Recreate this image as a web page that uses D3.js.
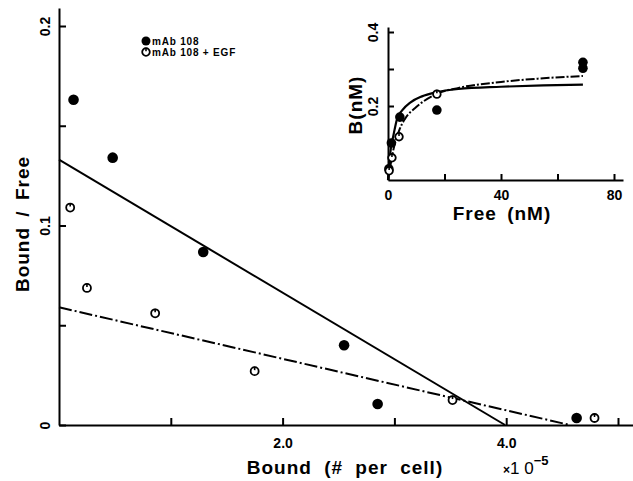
<!DOCTYPE html>
<meta charset="utf-8">
<style>
body { margin: 0; background: #fff; }
text { font-family: "Liberation Sans", Arial, sans-serif; font-weight: bold; fill: #000; }
.axis path, .axis line { stroke: #000; stroke-width: 2; }
</style>
<body>
<script src="https://d3js.org/d3.v7.min.js"></script>
<script>
// Scatchard plot: bound (x1e-5 per cell) vs bound/free
var mabBound = [0.13, 0.48, 1.29, 2.55, 2.85, 4.63],
    mabRatio = [0.163, 0.134, 0.0867, 0.040, 0.0105, 0.0035];
var egfBound = [0.10, 0.25, 0.86, 1.75, 3.52, 4.79],
    egfRatio = [0.109, 0.0687, 0.056, 0.027, 0.0125, 0.0035];
// fitted lines, end points
var mabFitX = [0, 3.99], mabFitY = [0.133, 0];
var egfFitX = [0, 4.57], egfFitY = [0.059, 0];
var xTicks = [1, 2, 3, 4, 5], xTickLabels = {2: "2.0", 4: "4.0"};
var yTicks = [0, 0.05, 0.1, 0.15, 0.2], yTickLabels = {0: "0", 0.1: "0.1", 0.2: "0.2"};

// inset: free (nM) vs B (nM)
var inMabFree = [0.3, 1.2, 4.2, 17.3, 69, 69],
    inMabB = [0.03, 0.10, 0.17, 0.189, 0.302, 0.318];
var inEgfFree = [0.4, 1.4, 3.9, 17.3],
    inEgfB = [0.025, 0.06, 0.117, 0.232];
var inMabCurveF = [0, 0.5, 1.0, 1.8, 3.2, 5, 8, 12, 17, 25, 40, 55, 69],
    inMabCurveB = [0, 0.05, 0.085, 0.116, 0.165, 0.188, 0.21, 0.226, 0.237, 0.246, 0.252, 0.256, 0.258];
var inEgfCurveF = [0, 1, 2, 4, 6, 10, 17, 25, 40, 55, 69],
    inEgfCurveB = [0, 0.045, 0.085, 0.135, 0.165, 0.197, 0.232, 0.249, 0.265, 0.275, 0.281];
var inXTicks = [0, 20, 40, 60, 80], inXTickLabels = {0: "0", 40: "40", 80: "80"};
var inYTicks = [0.1, 0.2, 0.3, 0.4], inYTickLabels = {0.2: "0.2", 0.4: "0.4"};

var width = 633, height = 481;
var svg = d3.select("body").append("svg")
    .attr("width", width)
    .attr("height", height);

function zip(a, b) { return a.map(function(d, i) { return [d, b[i]]; }); }

// open marker: ring with a short stroke at top
function openMarker(g, r) {
  g.append("circle").attr("r", r).attr("fill", "#fff").attr("stroke", "#000").attr("stroke-width", 1.8);
  g.append("line").attr("x1", 0).attr("y1", -r - 0.5).attr("x2", 0).attr("y2", -r + 3)
    .attr("stroke", "#000").attr("stroke-width", 1.6);
}

// ---------- main plot ----------
var x = d3.scaleLinear().domain([0, 5]).range([59, 618]),
    y = d3.scaleLinear().domain([0, 0.2]).range([425, 26]);
var xAx = x.copy().domain([0, x.invert(633)]).range([59, 633]),
    yAx = y.copy().domain([0, y.invert(8)]).range([425, 8]);

var gx = svg.append("g").attr("class", "axis")
    .attr("transform", "translate(0,425)")
    .call(d3.axisBottom(xAx).tickValues(xTicks).tickSizeInner(-7).tickSizeOuter(0)
      .tickFormat(function(d) { return xTickLabels[d] || ""; }));
gx.selectAll("text").attr("y", 23).attr("dy", 0).style("font-size", "14px");

var gy = svg.append("g").attr("class", "axis")
    .attr("transform", "translate(59,0)")
    .call(d3.axisLeft(yAx).tickValues(yTicks).tickSizeInner(-7).tickSizeOuter(0)
      .tickFormat(function(d) { return yTickLabels[d] || ""; }));
gy.selectAll("text").attr("x", 0).attr("dy", "0.35em")
    .attr("transform", "translate(-14,0) rotate(-90)")
    .attr("text-anchor", "middle").style("font-size", "14px");

var line = d3.line().x(function(d) { return x(d[0]); }).y(function(d) { return y(d[1]); });
svg.append("path").datum(zip(mabFitX, mabFitY)).attr("d", line)
    .attr("fill", "none").attr("stroke", "#000").attr("stroke-width", 2);
svg.append("path").datum(zip(egfFitX, egfFitY)).attr("d", line)
    .attr("fill", "none").attr("stroke", "#000").attr("stroke-width", 2)
    .attr("stroke-dasharray", "13,3,2,3");

svg.append("g").selectAll("circle").data(zip(mabBound, mabRatio)).enter().append("circle")
    .attr("cx", function(d) { return x(d[0]); })
    .attr("cy", function(d) { return y(d[1]); })
    .attr("r", 5.3).attr("fill", "#000");
svg.append("g").selectAll("g").data(zip(egfBound, egfRatio)).enter().append("g")
    .attr("transform", function(d) { return "translate(" + x(d[0]) + "," + y(d[1]) + ")"; })
    .each(function() { openMarker(d3.select(this), 4); });

// legend
var leg = svg.append("g").attr("transform", "translate(146,41)");
leg.append("circle").attr("r", 4.5).attr("fill", "#000");
openMarker(leg.append("g").attr("transform", "translate(0,11)"), 3.8);
leg.append("text").attr("x", 6).attr("y", 0).attr("dy", "0.35em")
    .style("font-size", "10px").style("letter-spacing", "0.8px").text("mAb 108");
leg.append("text").attr("x", 6).attr("y", 11).attr("dy", "0.35em")
    .style("font-size", "10px").style("letter-spacing", "0.8px").text("mAb 108 + EGF");

// axis titles
svg.append("text")
    .attr("transform", "translate(22,224) rotate(-90)")
    .attr("dy", "0.35em").attr("text-anchor", "middle")
    .style("font-size", "19px").style("letter-spacing", "1px").style("word-spacing", "4px")
    .text("Bound / Free");
svg.append("text")
    .attr("x", 345).attr("y", 474).attr("text-anchor", "middle")
    .style("font-size", "19px").style("letter-spacing", "1px").style("word-spacing", "6px")
    .text("Bound (# per cell)");
var exp = svg.append("text").attr("x", 503).attr("y", 474);
exp.append("tspan").style("font-size", "12px").text("\u00d7");
exp.append("tspan").style("font-size", "17px").style("font-weight", "normal").text("1 0");
exp.append("tspan").attr("dy", -9).style("font-size", "13px").text("\u22125");

// ---------- inset ----------
var xi = d3.scaleLinear().domain([0, 80]).range([388, 614]),
    yi = d3.scaleLinear().domain([0, 0.4]).range([180, 32]);
var xiAx = xi.copy().domain([0, xi.invert(623)]).range([388, 623]),
    yiAx = yi.copy().domain([0, yi.invert(27)]).range([180, 27]);

var gxi = svg.append("g").attr("class", "axis")
    .attr("transform", "translate(0,180)")
    .call(d3.axisBottom(xiAx).tickValues(inXTicks).tickSizeInner(-6).tickSizeOuter(0)
      .tickFormat(function(d) { return inXTickLabels[d] || ""; }));
gxi.selectAll("text").attr("y", 20).attr("dy", 0).style("font-size", "14px");

var gyi = svg.append("g").attr("class", "axis")
    .attr("transform", "translate(388,0)")
    .call(d3.axisLeft(yiAx).tickValues(inYTicks).tickSizeInner(-6).tickSizeOuter(0)
      .tickFormat(function(d) { return inYTickLabels[d] || ""; }));
gyi.selectAll("text").attr("x", 0).attr("dy", "0.35em")
    .attr("transform", "translate(-15,0) rotate(-90)")
    .attr("text-anchor", "middle").style("font-size", "14px");
svg.selectAll(".axis .domain").attr("stroke-width", 2.2);

var lineIn = d3.line().curve(d3.curveMonotoneX)
    .x(function(d) { return xi(d[0]); }).y(function(d) { return yi(d[1]); });
svg.append("path").datum(zip(inMabCurveF, inMabCurveB)).attr("d", lineIn)
    .attr("fill", "none").attr("stroke", "#000").attr("stroke-width", 2.2);
svg.append("path").datum(zip(inEgfCurveF, inEgfCurveB)).attr("d", lineIn)
    .attr("fill", "none").attr("stroke", "#000").attr("stroke-width", 2)
    .attr("stroke-dasharray", "9,2,2,2");

svg.append("g").selectAll("circle").data(zip(inMabFree, inMabB)).enter().append("circle")
    .attr("cx", function(d) { return xi(d[0]); })
    .attr("cy", function(d) { return yi(d[1]); })
    .attr("r", 4.8).attr("fill", "#000");
svg.append("g").selectAll("g").data(zip(inEgfFree, inEgfB)).enter().append("g")
    .attr("transform", function(d) { return "translate(" + xi(d[0]) + "," + yi(d[1]) + ")"; })
    .each(function() { openMarker(d3.select(this), 3.8); });

svg.append("text")
    .attr("transform", "translate(355,105) rotate(-90)")
    .attr("dy", "0.35em").attr("text-anchor", "middle")
    .style("font-size", "19px").style("letter-spacing", "1px")
    .text("B(nM)");
svg.append("text")
    .attr("x", 502).attr("y", 220).attr("text-anchor", "middle")
    .style("font-size", "19px").style("letter-spacing", "1px").style("word-spacing", "4px")
    .text("Free (nM)");
</script>
</body>
